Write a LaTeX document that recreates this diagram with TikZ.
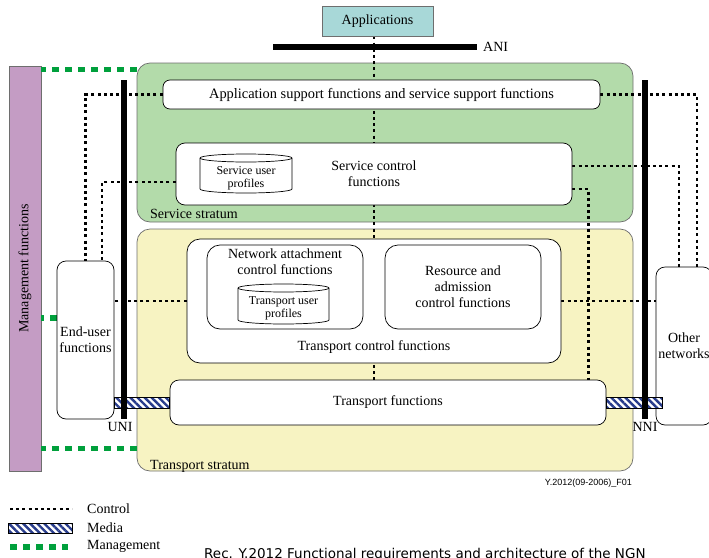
\documentclass[tikz,border=0pt]{standalone}
\usepackage{fontspec}
\setmainfont{Liberation Serif}
\newfontfamily\capfont{DejaVu Sans}
\newfontfamily\smallsans{Liberation Sans}
\usetikzlibrary{calc,patterns.meta}
\definecolor{appcol}{RGB}{168,216,216}
\definecolor{svccol}{RGB}{179,219,170}
\definecolor{trcol}{RGB}{247,243,194}
\definecolor{mgmtcol}{RGB}{196,156,196}
\definecolor{mgmtline}{RGB}{0,160,60}
\definecolor{hatchcol}{RGB}{40,60,140}
\definecolor{edgegray}{RGB}{110,110,110}
\pgfdeclarelayer{bg}
\pgfdeclarelayer{lines}
\pgfsetlayers{bg,lines,main}
\begin{document}
\begin{tikzpicture}[x=1pt,y=-1pt,
  font=\fontsize{14}{16}\selectfont,
  every node/.style={inner sep=0pt},
  stratum/.style={draw=edgegray, line width=0.7pt, rounded corners=13pt},
  fbox/.style={draw=black, fill=white, line width=0.7pt, rounded corners=9pt, align=center},
  ctrl/.style={draw=black, line width=2.7pt, dash pattern=on 3pt off 3.2pt},
  mgmtl/.style={draw=mgmtline, line width=5.5pt, dash pattern=on 6.5pt off 6.5pt},
  media/.style={draw=black, line width=0.8pt, preaction={fill=white},
     pattern={Lines[angle=-45,distance=5pt,line width=2.4pt]}, pattern color=hatchcol},
  iface/.style={draw=black, line width=5.2pt},
  cyl/.style={draw=black, fill=white, line width=0.7pt},
  cyltext/.style={font=\fontsize{12}{13}\selectfont, align=center}
]
\useasboundingbox (0,0) rectangle (709,557);

% strata and management
\begin{pgfonlayer}{bg}
\node[stratum, fill=svccol, minimum width=496pt, minimum height=159pt] (svc) at (385,142.5) {};
\node[stratum, fill=trcol, minimum width=496pt, minimum height=242pt] (tr) at (385,350) {};
\node[draw=edgegray, line width=0.7pt, fill=mgmtcol, minimum width=32pt, minimum height=405pt] (mgmt) at (25,268.5) {};
\end{pgfonlayer}
\node[rotate=90] (mgmtlabel) at (mgmt.center) {Management functions};
\node[anchor=base west] (svclabel) at (150,218) {Service stratum};
\node[anchor=base west] (trlabel) at (150,469) {Transport stratum};

% boxes
\node[draw=edgegray, line width=0.7pt, fill=appcol, minimum width=111pt, minimum height=30pt] (apps) at (377.5,21) {Applications};
\node[fbox, rounded corners=7pt, minimum width=437pt, minimum height=29pt, font=\fontsize{14.4}{16}\selectfont] (asf) at (381.5,94.5) {Application support functions and service support functions};
\node[fbox, minimum width=396pt, minimum height=62pt] (scf) at (374,174) {Service control\\functions};
\node[fbox, rounded corners=13pt, minimum width=374pt, minimum height=124pt] (tcf) at (374,301) {};
\node[anchor=base] (tcflabel) at ($(tcf.south)+(0,-13)$) {Transport control functions};
\node[fbox, rounded corners=13pt, minimum width=156pt, minimum height=84pt] (nacf) at (285,287) {};
\node[anchor=north, align=center] (nacflabel) at ($(nacf.north)+(0,4)$) {Network attachment\\control functions};
\node[fbox, rounded corners=13pt, minimum width=156pt, minimum height=84pt] (racf) at (463,287) {Resource and\\admission\\control functions};
\node[fbox, minimum width=436pt, minimum height=45pt] (tf) at (388,402.5) {Transport functions};
\node[fbox, minimum width=57pt, minimum height=158pt] (eu) at (85.5,340) {End-user\\functions};
\node[fbox, minimum width=56pt, minimum height=158pt] (other) at (684,346) {Other\\networks};

% cylinders
\draw[cyl] (200,158) -- (200,189) arc[start angle=180,end angle=360,x radius=46pt,y radius=4pt] -- (292,158) arc[start angle=0,end angle=180,x radius=46pt,y radius=4pt] -- cycle;
\draw[cyl, fill=none] (292,158) arc[start angle=360,end angle=180,x radius=46pt,y radius=4pt];
\node[cyltext] (sup) at (246,178.5) {Service user\\profiles};
\draw[cyl] (238,288) -- (238,320) arc[start angle=180,end angle=360,x radius=45.5pt,y radius=4pt] -- (329,288) arc[start angle=0,end angle=180,x radius=45.5pt,y radius=4pt] -- cycle;
\draw[cyl, fill=none] (329,288) arc[start angle=360,end angle=180,x radius=45.5pt,y radius=4pt];
\node[cyltext] (tup) at (283.5,308.5) {Transport user\\profiles};

% control connections
\begin{pgfonlayer}{lines}
\draw[ctrl] (apps.south -| scf.center) -- (tf.north -| scf.center);
\draw[ctrl] (asf.west) -| (eu.north);
\draw[ctrl] ($(scf.west)+(0,8)$) -| ($(eu.north)+(16.5,0)$);
\draw[ctrl] (tcf.west) -- (tcf.west -| eu.east);
\draw[ctrl] (nacf.east) -- (racf.west);
\draw[ctrl] (asf.east) -| ($(other.north)+(13,0)$);
\draw[ctrl] ($(scf.east)+(0,-8)$) -| ($(other.north)+(-5,0)$);
\draw[ctrl] ($(scf.east)+(0,15)$) -| ($(tf.north east)+(-18,0)$);
\draw[ctrl] (tcf.east) -- (tcf.east -| other.west);
% management connections
\coordinate (m1) at ($(svc.north west)+(0,7)$);
\draw[mgmtl] (m1) -- (m1 -| mgmt.east);
\coordinate (m2) at ($(eu.west)+(0,-22)$);
\draw[mgmtl] (m2) -- (m2 -| mgmt.east);
\coordinate (m3) at ($(tr.south west)+(0,-23)$);
\draw[mgmtl] (m3) -- (m3 -| mgmt.east);
\end{pgfonlayer}

% media
\draw[media] ($(tf.west -| eu.east)+(0,-5.5)$) rectangle ($(tf.west)+(0,5.5)$);
\draw[media] ($(tf.east)+(0,-5.5)$) rectangle ($(tf.east -| other.west)+(7,5.5)$);

% interfaces
\coordinate (anil) at (273,47);
\coordinate (anir) at (477,47);
\draw[draw=black, line width=6pt] (anil) -- (anir);
\node[anchor=west] (ani) at ($(anir)+(6,0)$) {ANI};
\coordinate (unit) at (124,80);
\coordinate (unib) at (124,419);
\draw[iface] (unit) -- (unib);
\node[anchor=north] (uni) at ($(unib)+(-4,3)$) {UNI};
\coordinate (nnit) at (645,80);
\coordinate (nnib) at (645,419);
\draw[iface] (nnit) -- (nnib);
\node[anchor=north] (nni) at ($(nnib)+(0,3)$) {NNI};

% figure id
\node[anchor=east, font=\smallsans\fontsize{9}{10}\selectfont] (figid) at (632,483) {Y.2012(09-2006)\_F01};

% legend
\coordinate (lc1) at (10,509);
\coordinate (lc2) at (72,509);
\draw[ctrl] (lc1) -- (lc2);
\node[anchor=west] (lcontrol) at (87,509) {Control};
\coordinate (lm1) at (8,523);
\coordinate (lm2) at (72,533);
\draw[media] (lm1) rectangle (lm2);
\node[anchor=west] (lmedia) at (87,528) {Media};
\coordinate (lg1) at (10,547);
\coordinate (lg2) at (68,547);
\draw[mgmtl] (lg1) -- (lg2);
\node[anchor=west] (lmgmt) at (87,546) {Management};

% caption
\node[anchor=base west, font=\capfont\fontsize{13.5}{15}\selectfont] (caption) at (204,558.5) {Rec. Y.2012 Functional requirements and architecture of the NGN};
\end{tikzpicture}
\end{document}
